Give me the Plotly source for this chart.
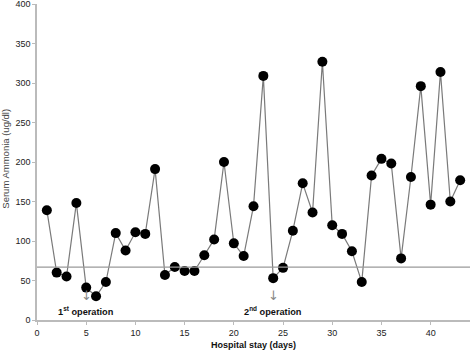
import plotly.graph_objects as go

days = list(range(1, 44))
ammonia = [139, 60, 55, 148, 41, 30, 48, 110, 88, 111, 109, 191, 57, 67, 62, 62, 82, 102, 200, 97,
           81, 144, 309, 53, 66, 113, 173, 136, 327, 120, 109, 87, 48, 183, 204, 198, 78, 181, 296, 146,
           314, 150, 177]
reference_level = 67
x_ticks = [0, 5, 10, 15, 20, 25, 30, 35, 40]
y_ticks = [0, 50, 100, 150, 200, 250, 300, 350, 400]
events = [(5, "1<sup>st</sup> operation"), (24, "2<sup>nd</sup> operation")]

FONT = "Liberation Sans, Arial, sans-serif"

fig = go.Figure()
fig.add_trace(go.Scatter(
    x=days, y=ammonia, mode="lines+markers",
    line=dict(color="#7a7a7a", width=1.2),
    marker=dict(color="black", size=10),
    showlegend=False, cliponaxis=False,
))

fig.add_shape(type="line", xref="x", yref="y", x0=0, x1=44, y0=reference_level, y1=reference_level,
              line=dict(color="#9a9a9a", width=1.2))

for ex, label in events:
    fig.add_annotation(x=ex, y=31, xref="x", yref="y", text="↓", showarrow=False,
                       font=dict(family="DejaVu Sans", size=13, color="#888888"))
    fig.add_annotation(x=ex, y=12, xref="x", yref="y", text="<b>" + label + "</b>",
                       showarrow=False, font=dict(family=FONT, size=9.2, color="#111111"))

fig.add_annotation(x=0.5, y=-0.079, xref="paper", yref="paper", yanchor="middle",
                   text="<b>Hospital stay (days)</b>", showarrow=False,
                   font=dict(family=FONT, size=9, color="#111111"))
fig.add_annotation(x=-0.072, y=0.51, xref="paper", yref="paper", xanchor="center", yanchor="middle",
                   text="Serum Ammonia (ug/dl)", textangle=-90, showarrow=False,
                   font=dict(family=FONT, size=9.5, color="#444444"))

fig.update_xaxes(range=[0, 44], tickvals=x_ticks, showgrid=False, zeroline=False,
                 showline=True, linecolor="#bbbbbb", linewidth=1.5,
                 ticks="outside", ticklen=3, tickcolor="#bbbbbb", ticklabeloverflow="allow",
                 tickfont=dict(family=FONT, size=9, color="#222222"))
fig.update_yaxes(range=[0, 400], tickvals=y_ticks, showgrid=False, zeroline=False,
                 showline=True, linecolor="#bbbbbb", linewidth=1.5,
                 ticks="outside", ticklen=3, tickcolor="#bbbbbb", ticklabeloverflow="allow",
                 tickfont=dict(family=FONT, size=9, color="#222222"))

fig.update_layout(width=472, height=353, margin=dict(l=37, r=2, t=4, b=33, autoexpand=False),
                  plot_bgcolor="white", paper_bgcolor="white")

fig.write_html("out.html", config={"displayModeBar": False},
               post_script="document.body.style.margin='0';document.body.style.overflow='hidden';")
